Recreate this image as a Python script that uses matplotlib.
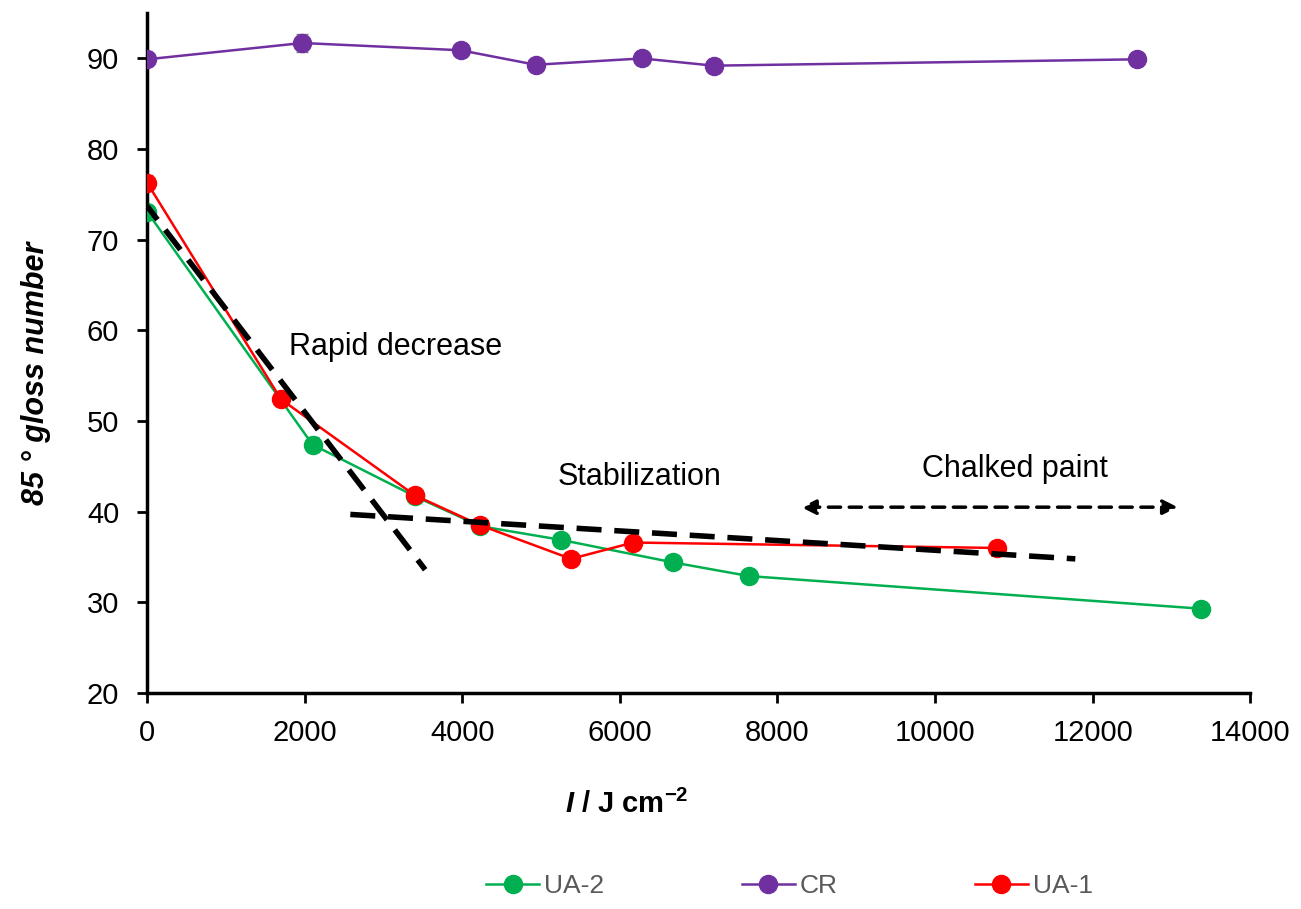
import numpy as np
import matplotlib
matplotlib.use("Agg")
from matplotlib import pyplot as plt

plt.rcParams['font.family'] = ['Liberation Sans', 'DejaVu Sans']
plt.rcParams['mathtext.fontset'] = 'custom'
plt.rcParams['mathtext.rm'] = 'Liberation Sans'
plt.rcParams['mathtext.it'] = 'Liberation Sans:italic'
plt.rcParams['mathtext.bf'] = 'Liberation Sans:bold'
plt.rcParams['mathtext.bfit'] = 'Liberation Sans:italic:bold'

# irradiation dose (J cm-2) and 85 deg gloss values
x_cr = [0, 1970, 3980, 4930, 6280, 7190, 12560]
y_cr = [89.9, 91.7, 90.9, 89.3, 90.0, 89.2, 89.9]
err_cr = [0.3, 1.0, 0.4, 0.3, 0.7, 0.3, 0.3]

x_ua1 = [0, 1700, 3400, 4230, 5380, 6170, 10780]
y_ua1 = [76.3, 52.4, 41.8, 38.5, 34.8, 36.6, 36.0]
err_ua1 = [0.8, 0.3, 0.3, 0.3, 0.3, 0.3, 0.3]

x_ua2 = [0, 2100, 3400, 4230, 5250, 6680, 7640, 13380]
y_ua2 = [73.1, 47.4, 41.7, 38.4, 36.9, 34.4, 32.9, 29.3]
err_ua2 = [0.3, 0.8, 0.3, 0.3, 0.3, 0.3, 0.3, 0.3]

# guide lines (trend of the two regimes)
fast_x = [-60, 3530]
fast_y = [74.4, 33.6]
slow_x = [2580, 11780]
slow_y = [39.7, 34.8]
arrow_x = [8300, 13080]
arrow_y = 40.5

fig = plt.figure(figsize=(13.01, 9.09), dpi=100)
ax = fig.add_axes([0.113, 0.2376, 0.848, 0.748])

ms = 13
series = [(x_ua2, y_ua2, err_ua2, '#00B050', 'UA-2', 3),
          (x_cr, y_cr, err_cr, '#7030A0', 'CR', 3),
          (x_ua1, y_ua1, err_ua1, '#FF0000', 'UA-1', 4)]
for xs, ys, es, col, name, z in series:
    ax.errorbar(xs, ys, yerr=es, fmt='none', ecolor='#7f7f7f', elinewidth=1.2, capsize=4, zorder=z)
    ax.plot(xs, ys, color=col, marker='o', ms=ms, lw=1.8, label=name, zorder=z)

ax.plot(fast_x, fast_y, color='black', lw=4, ls=(0, (4.5, 2.3)), zorder=5)
ax.plot(slow_x, slow_y, color='black', lw=4, ls=(0, (4.5, 2.3)), zorder=5)
ax.annotate('', xy=(arrow_x[0], arrow_y), xytext=(arrow_x[1], arrow_y),
            arrowprops=dict(arrowstyle='<|-|>', color='black', lw=2.5, ls=(0, (3.5, 2.5)),
                            mutation_scale=22, shrinkA=0, shrinkB=0))

ax.text(1800, 58.2, 'Rapid decrease', fontsize=22, va='center')
ax.text(5210, 43.8, 'Stabilization', fontsize=22, va='center')
ax.text(9830, 44.7, 'Chalked paint', fontsize=22, va='center')

ax.set_xlim(0, 14000)
ax.set_ylim(20, 95)
ax.set_xticks(np.arange(0, 14001, 2000))
ax.set_yticks(np.arange(20, 91, 10))
ax.spines['top'].set_visible(False)
ax.spines['right'].set_visible(False)
ax.spines['left'].set_linewidth(2.5)
ax.spines['bottom'].set_linewidth(2.5)
ax.tick_params(axis='both', direction='out', length=7, width=2, labelsize=21)
ax.tick_params(axis='x', pad=12)
ax.tick_params(axis='y', pad=13)

ax.set_ylabel('85 ° gloss number', fontsize=22, fontweight='bold', style='italic')
ax.yaxis.set_label_coords(-0.087, 0.47)
ax.set_xlabel(r'$\mathbfit{I}$ / J cm$^{\mathbf{-2}}$', fontsize=21, fontweight='bold')
ax.xaxis.set_label_coords(0.435, -0.142)

leg = fig.legend(loc='center', bbox_to_anchor=(0.607, 0.025), ncol=3, frameon=False,
                 fontsize=19, handlelength=2.0, handletextpad=0.2, columnspacing=5.2,
                 markerscale=1.0)
for t in leg.get_texts():
    t.set_color('#595959')

fig.savefig('out.png', dpi=100)
